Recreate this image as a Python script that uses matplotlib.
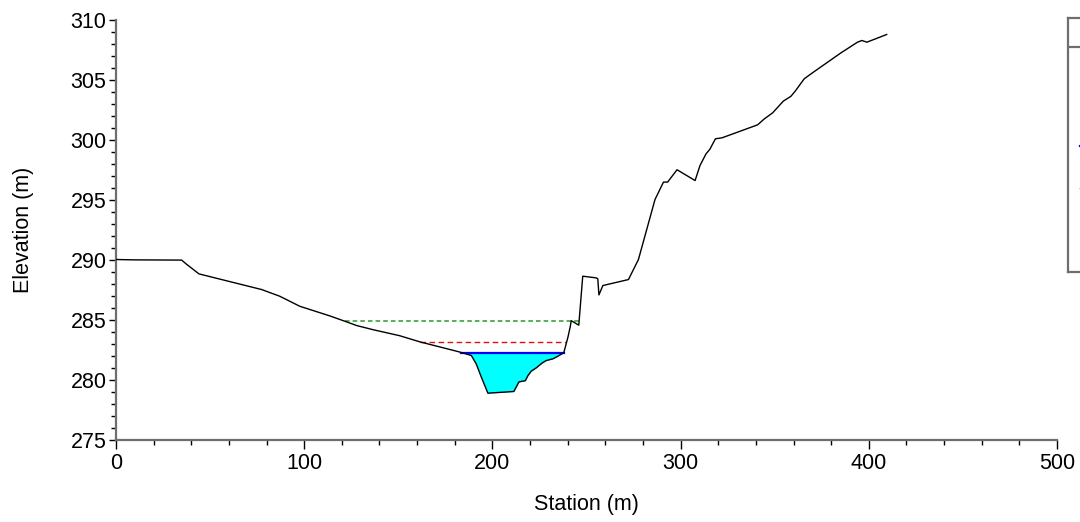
import numpy as np
import matplotlib
matplotlib.use("Agg")
from matplotlib import pyplot as plt

plt.rcParams['font.family'] = ['Liberation Sans', 'DejaVu Sans']

# ground profile (station m, elevation m)
station = [0, 9.2, 34.9, 37.2, 44.1, 77.3, 87.0, 97.7, 113.6, 121.5, 127.8, 136.6,
           150.7, 161.4, 179.9, 183.5, 188.8, 191.4, 194.1, 197.6, 211.4, 214.1,
           217.5, 218.9, 220.6, 223.3, 226.3, 228.6, 232.1, 234.8, 236.9, 237.9,
           239.2, 240.1, 241.3, 241.9, 245.9, 248.0, 255.1, 256.0, 256.6, 258.7,
           272.3, 277.6, 286.4, 290.9, 293.1, 298.1, 307.7, 310.3, 313.5, 315.6,
           318.5, 322.0, 340.9, 344.5, 348.9, 354.6, 358.6, 360.9, 365.7, 370.1,
           385.2, 394.0, 396.3, 399.0, 409.5]
ground = [290.0, 289.97, 289.95, 289.64, 288.8, 287.5, 286.94, 286.1, 285.3, 284.86,
          284.5, 284.15, 283.65, 283.14, 282.4, 282.25, 282.0, 281.3, 280.2, 278.86,
          279.0, 279.8, 279.9, 280.33, 280.69, 280.97, 281.36, 281.58, 281.72,
          281.94, 282.14, 282.22, 282.97, 283.5, 284.36, 284.9, 284.53, 288.61,
          288.47, 288.39, 287.05, 287.83, 288.33, 290.0, 295.0, 296.45, 296.45,
          297.48, 296.58, 297.83, 298.8, 299.2, 300.06, 300.14, 301.22, 301.72,
          302.22, 303.2, 303.6, 304.03, 305.06, 305.56, 307.22, 308.11, 308.25,
          308.11, 308.75]

# water surface profiles: elevation, left station, right station
eg_elev, eg_x = 284.86, [121.5, 246.3]
crit_elev, crit_x = 283.14, [161.4, 239.2]
ws_elev, ws_x = 282.22, [183.5, 237.9]

fig = plt.figure(figsize=(10.8, 5.22), dpi=100)
ax = fig.add_axes([116 / 1080, 1 - 439.5 / 522, 941 / 1080, 420 / 522])

st = np.array(station)
gr = np.array(ground)
mask = (st >= ws_x[0]) & (st <= ws_x[1])
ax.fill_between(st[mask], gr[mask], ws_elev, color='#00ffff', lw=0, zorder=1)

eg_style = dict(color='#2a9a2a', lw=1.1, ls=(0, (3, 2)))
crit_style = dict(color='#e01010', lw=1.0, ls=(0, (4, 2.5)))
ws_style = dict(color='#0000ff', lw=1.6, ls='-')
gr_style = dict(color='black', lw=1.0, ls='-')

ax.plot(eg_x, [eg_elev, eg_elev], zorder=2, **eg_style)
ax.plot(crit_x, [crit_elev, crit_elev], zorder=2, **crit_style)
ax.plot(ws_x, [ws_elev, ws_elev], zorder=3, **ws_style)
ax.plot(station, ground, zorder=4, **gr_style)

ax.set_xlim(0, 500)
ax.set_ylim(275, 310)
ax.set_xticks(np.arange(0, 501, 100))
ax.set_xticks(np.arange(0, 501, 20), minor=True)
ax.set_yticks(np.arange(275, 311, 5))
ax.set_yticks(np.arange(275, 311, 1), minor=True)

for side in ['top', 'right']:
    ax.spines[side].set_visible(False)
for side in ['left', 'bottom']:
    ax.spines[side].set_color('#6e6e6e')
    ax.spines[side].set_linewidth(1.6)

ax.tick_params(axis='x', which='major', length=6.5, width=1, labelsize=15.5, pad=3)
ax.tick_params(axis='x', which='minor', length=3.6, width=1)
ax.tick_params(axis='y', which='major', length=4.8, width=1, labelsize=15.5, pad=2)
ax.tick_params(axis='y', which='minor', length=3.6, width=1)

ax.set_xlabel('Station (m)', fontsize=15.5)
ax.set_ylabel('Elevation (m)', fontsize=15.5)
ax.xaxis.set_label_coords(0.5, -0.13)
ax.yaxis.set_label_coords(-0.087, 0.5)

# legend box, cut by the right edge of the picture (its labels fall outside)
lax = fig.add_axes([1068 / 1080, 1 - 271.7 / 522, 0.13, 254 / 522])
lax.set_xlim(0, 1)
lax.set_ylim(0, 1)
lax.set_xticks([])
lax.set_yticks([])
lax.patch.set_alpha(0)
for side in lax.spines:
    lax.spines[side].set_color('#6e6e6e')
    lax.spines[side].set_linewidth(1.6)
lax.axhline(0.8835, color='#6e6e6e', lw=1.6)
ent_y = [0.8307, 0.6602, 0.4949, 0.3283]
for yy, sty in zip(ent_y, [eg_style, crit_style, ws_style, gr_style]):
    lax.plot([0.085, 0.4], [yy, yy], **sty)

fig.savefig('out.png', dpi=100)
